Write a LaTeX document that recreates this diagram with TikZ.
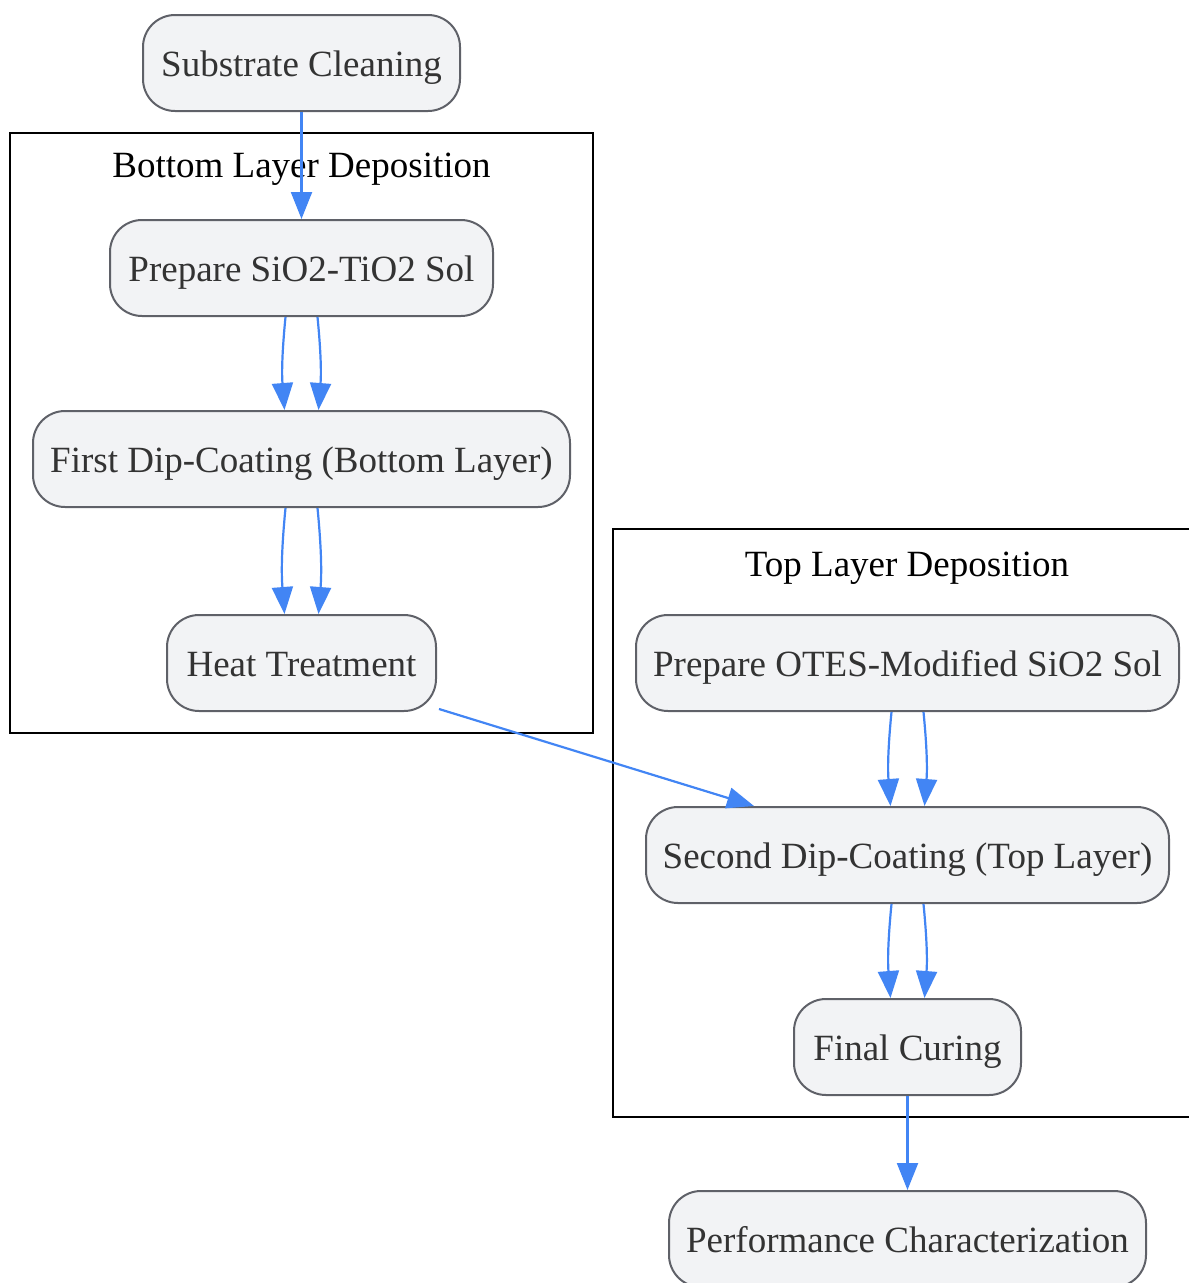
\documentclass[tikz,border=0pt]{standalone}
\usepackage{fontspec}
\setmainfont{Liberation Serif}
\usetikzlibrary{arrows.meta,calc}
\definecolor{nodefill}{HTML}{F2F3F5}
\definecolor{nodeline}{HTML}{5F6168}
\definecolor{edgeblue}{HTML}{4285F4}
\definecolor{txt}{HTML}{333333}
\tikzset{
  stepbox/.style={draw=nodeline, fill=nodefill, line width=2pt, rounded corners=32pt,
    minimum height=96pt, inner sep=0pt, text height=26pt, text depth=0pt, text=txt,
    font=\fontsize{37}{44}\selectfont},
  cluster/.style={draw=black, line width=2.2pt},
  ctitle/.style={font=\fontsize{37}{44}\selectfont, text=black, inner sep=0pt,
    text height=26pt, text depth=0pt},
  flow/.style={draw=edgeblue, line width=2.2pt, -{Triangle[length=27pt,width=21pt]}},
}
\begin{document}
\begin{tikzpicture}[x=1pt,y=-1pt]
\useasboundingbox (0,0) rectangle (1189,1283);
\clip (0,0) rectangle (1189,1283);
% clusters
\draw[cluster] (10,133) rectangle (593,733);
\node[ctitle] (bt) at (301.5,164) {Bottom Layer Deposition};
\draw[cluster] (613,529) rectangle (1195,1117);
\node[ctitle] (tt) at (907,563) {Top Layer Deposition};
% nodes
\node[stepbox, minimum width=317pt] (sc) at (301.5,63) {Substrate Cleaning};
\node[stepbox, minimum width=383pt] (ps) at (301.5,268) {Prepare SiO2-TiO2 Sol};
\node[stepbox, minimum width=537pt] (fd) at (301.5,459) {First Dip-Coating (Bottom Layer)};
\node[stepbox, minimum width=269pt] (ht) at (301.5,663) {Heat Treatment};
\node[stepbox, minimum width=543pt] (po) at (907.5,663) {Prepare OTES-Modified SiO2 Sol};
\node[stepbox, minimum width=523pt] (sd) at (907.5,855) {Second Dip-Coating (Top Layer)};
\node[stepbox, minimum width=227pt] (fc) at (907.5,1047) {Final Curing};
\node[stepbox, minimum width=477pt] (pc) at (907.5,1239) {Performance Characterization};
% edges
\draw[flow] (sc.south) -- (ps.north);
\draw[flow] ([xshift=-16pt]ps.south) to[bend right=5] ([xshift=-17pt]fd.north);
\draw[flow] ([xshift=16pt]ps.south) to[bend left=5] ([xshift=17pt]fd.north);
\draw[flow] ([xshift=-16pt]fd.south) to[bend right=5] ([xshift=-17pt]ht.north);
\draw[flow] ([xshift=16pt]fd.south) to[bend left=5] ([xshift=17pt]ht.north);
\draw[flow] ([shift={(2pt,3pt)}]ht.south east) -- ([xshift=109pt]sd.north west);
\draw[flow] ([xshift=-16pt]po.south) to[bend right=5] ([xshift=-17pt]sd.north);
\draw[flow] ([xshift=16pt]po.south) to[bend left=5] ([xshift=17pt]sd.north);
\draw[flow] ([xshift=-16pt]sd.south) to[bend right=5] ([xshift=-17pt]fc.north);
\draw[flow] ([xshift=16pt]sd.south) to[bend left=5] ([xshift=17pt]fc.north);
\draw[flow] (fc.south) -- (pc.north);
\end{tikzpicture}
\end{document}
